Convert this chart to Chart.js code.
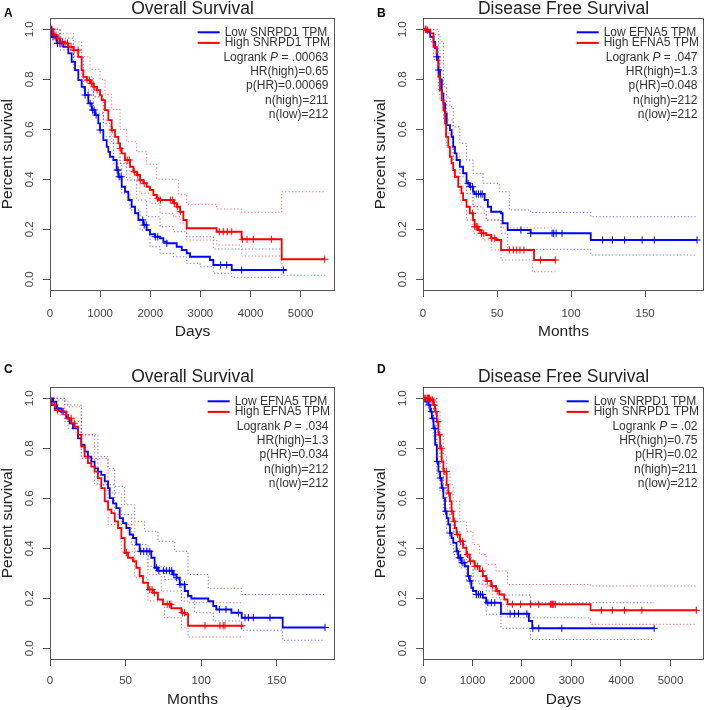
<!DOCTYPE html>
<html><head><meta charset="utf-8">
<script src="https://cdn.jsdelivr.net/npm/chart.js@4.4.1/dist/chart.umd.min.js"></script>
<style>
html,body{margin:0;padding:0;background:#fff;}
#wrap{position:relative;width:709px;height:710px;overflow:hidden;background:#fff;}
canvas{position:absolute;}
</style></head><body><div id="wrap">
<canvas id="cA" width="354" height="355" style="left:0px;top:0px"></canvas>
<canvas id="cB" width="336" height="355" style="left:373px;top:0px"></canvas>
<canvas id="cC" width="354" height="355" style="left:0px;top:355px"></canvas>
<canvas id="cD" width="336" height="355" style="left:373px;top:355px"></canvas>
</div>
<script>
// ---------- tick labels ----------
const xTicksDays = [0, 1000, 2000, 3000, 4000, 5000];
const xTicksMonths = [0, 50, 100, 150];
const yTicks = [0, 0.2, 0.4, 0.6, 0.8, 1.0];

// ---------- Panel A: Overall Survival, SNRPD1 (days) ----------
const A_low = [[0,1],[33,0.97],[133,0.944],[266,0.93],[366,0.904],[432,0.87],[499,0.837],[565,0.797],[632,0.77],[698,0.737],[765,0.704],[831,0.677],[898,0.657],[964,0.624],[998,0.597],[1064,0.557],[1131,0.53],[1164,0.51],[1197,0.49],[1264,0.477],[1330,0.437],[1363,0.41],[1430,0.37],[1496,0.35],[1563,0.317],[1629,0.29],[1696,0.264],[1762,0.237],[1862,0.217],[1929,0.197],[1995,0.18],[2095,0.17],[2195,0.164],[2261,0.15],[2328,0.144],[2527,0.13],[2627,0.117],[2727,0.104],[2793,0.09],[3190,0.077],[3258,0.057],[3625,0.037],[4720,0.037]];
const A_high = [[0,1],[67,0.977],[133,0.964],[200,0.95],[266,0.944],[366,0.93],[466,0.917],[565,0.89],[632,0.837],[665,0.81],[732,0.797],[798,0.784],[865,0.77],[931,0.757],[998,0.737],[1031,0.717],[1097,0.677],[1164,0.637],[1230,0.597],[1297,0.57],[1363,0.544],[1397,0.524],[1430,0.504],[1496,0.477],[1596,0.45],[1663,0.43],[1729,0.417],[1796,0.397],[1862,0.384],[1929,0.37],[1995,0.357],[2062,0.337],[2128,0.324],[2161,0.317],[2461,0.304],[2527,0.29],[2594,0.27],[2660,0.237],[2727,0.204],[3324,0.19],[3823,0.16],[4622,0.08],[5490,0.08]];
const A_lowUp = [[0,1],[200,0.964],[466,0.89],[665,0.81],[865,0.73],[1064,0.624],[1197,0.544],[1397,0.464],[1530,0.397],[1729,0.317],[1929,0.25],[2195,0.21],[2461,0.19],[2727,0.17],[3258,0.121],[4622,0.121]];
const A_lowLo = [[0,1],[200,0.917],[466,0.837],[665,0.757],[865,0.664],[1064,0.57],[1264,0.464],[1430,0.344],[1596,0.277],[1796,0.197],[1995,0.13],[2195,0.104],[2461,0.09],[2727,0.064],[2993,0.05],[3258,0.024],[3625,0.008],[4622,0.008]];
const A_highUp = [[0,1],[200,0.984],[466,0.95],[632,0.89],[798,0.84],[998,0.8],[1097,0.74],[1230,0.68],[1397,0.6],[1530,0.55],[1729,0.51],[1929,0.46],[2128,0.4],[2560,0.34],[2727,0.3],[3324,0.281],[3823,0.268],[4622,0.35],[5490,0.35]];
const A_highLo = [[0,1],[200,0.93],[466,0.89],[632,0.797],[865,0.73],[1064,0.637],[1230,0.544],[1397,0.464],[1596,0.397],[1796,0.344],[1995,0.304],[2195,0.264],[2461,0.25],[2594,0.224],[2727,0.157],[3324,0.137],[3823,0.093],[4622,0.016],[5490,0.016]];
const A_lowCens = [30,60,100,150,200,240,700,760,800,850,880,920,1000,1340,1360,1380,1420,1850,1880,1920,2100,2150,2330,3405,3525,3823,4654];
const A_highCens = [40,80,120,160,200,250,300,350,420,480,560,740,790,830,880,940,1240,1400,1540,1580,1680,1750,1800,1880,2150,2200,2400,2440,2480,2540,2600,3377,3457,3537,3625,3836,3930,4056,4415,5480];

// ---------- Panel B: Disease Free Survival, EFNA5 (months) ----------
const B_low = [[0,1],[2.6,0.99],[4.9,0.97],[7.1,0.95],[8.2,0.924],[9.3,0.89],[10.4,0.837],[11.5,0.8],[12.7,0.744],[13.8,0.704],[14.9,0.664],[16,0.617],[18.2,0.597],[19.3,0.57],[20.4,0.53],[21.6,0.504],[22.7,0.477],[24.9,0.45],[27.1,0.424],[29.4,0.384],[31.6,0.37],[33.8,0.35],[34.9,0.341],[41.6,0.317],[43.8,0.29],[46,0.27],[52.7,0.264],[53.8,0.224],[57.2,0.197],[72.7,0.184],[113.3,0.157],[185.1,0.157]];
const B_high = [[0,1],[2.6,0.997],[4.9,0.984],[7.1,0.93],[9.3,0.877],[10.4,0.81],[11.5,0.757],[12.7,0.717],[13.8,0.677],[14.9,0.624],[15.6,0.57],[17.1,0.53],[18.2,0.49],[19.3,0.464],[20.4,0.437],[21.6,0.41],[23.8,0.37],[26,0.344],[27.1,0.317],[29.4,0.29],[31.6,0.264],[33.8,0.237],[34.9,0.21],[37.1,0.197],[39.4,0.184],[42.7,0.177],[46,0.164],[49.4,0.157],[52.7,0.117],[75,0.077],[89.4,0.077]];
const B_lowUp = [[0,1],[5,1],[10.4,0.95],[13.8,0.77],[15.8,0.73],[18.2,0.69],[20.4,0.61],[24.9,0.544],[29.4,0.477],[33.8,0.424],[40.5,0.384],[51.6,0.35],[58.3,0.277],[72.7,0.267],[113.3,0.25],[185.1,0.25]];
const B_lowLo = [[0,1],[5,0.95],[10.4,0.75],[13.8,0.64],[16,0.584],[20.4,0.477],[24.9,0.41],[29.4,0.344],[33.8,0.29],[40.5,0.277],[42.7,0.237],[52.7,0.184],[57.2,0.12],[113.3,0.097],[185.1,0.097]];
const B_highUp = [[0,1],[7.1,0.98],[11.5,0.784],[16,0.637],[20.4,0.504],[24.9,0.424],[29.4,0.344],[33.8,0.29],[37.1,0.264],[42.7,0.237],[52.7,0.205],[89.4,0.205]];
const B_highLo = [[0,1],[7.1,0.88],[11.5,0.717],[16,0.53],[20.4,0.41],[24.9,0.317],[29.4,0.237],[33.8,0.184],[40.5,0.157],[46,0.117],[52.7,0.077],[73.9,0.03],[89.4,0.03]];
const B_lowCens = [9.5,10.5,30.5,32,33.5,36,37.5,39,40,66.1,72.8,87.2,88.3,89.9,93.9,121.3,128,136.2,148,156.2,185.1];
const B_highCens = [1.5,2,3,33.5,35,36,37,38,39.5,41,46.5,48.5,58.3,61.1,63.3,65.5,68.2,79.4,89.4];

// ---------- Panel C: Overall Survival, EFNA5 (months) ----------
const C_low = [[0,1],[2,0.987],[4.2,0.96],[7.5,0.947],[10.8,0.92],[13,0.9],[15.2,0.88],[18.5,0.84],[20.7,0.814],[22.9,0.787],[25.1,0.767],[27.3,0.747],[29.5,0.72],[31.7,0.707],[33.9,0.694],[36.2,0.668],[38.4,0.641],[39.5,0.601],[41.7,0.58],[43.9,0.561],[46.1,0.521],[48.3,0.501],[50.5,0.481],[52.7,0.455],[54.9,0.441],[57.1,0.415],[59.3,0.388],[67,0.362],[69.2,0.322],[71.4,0.31],[81.3,0.295],[83.6,0.282],[85.8,0.255],[89.1,0.229],[91.3,0.209],[93.5,0.199],[104.7,0.188],[108,0.169],[110,0.155],[120,0.142],[126.8,0.122],[153.9,0.083],[182,0.083]];
const C_high = [[0,1],[0.9,0.973],[3.1,0.953],[7.5,0.947],[10.8,0.933],[11.9,0.92],[14.1,0.9],[16.3,0.887],[18.5,0.854],[20.7,0.807],[22.9,0.767],[25.1,0.741],[27.3,0.727],[29.5,0.707],[31.7,0.681],[33.9,0.641],[36.2,0.588],[38.4,0.555],[40.6,0.541],[42.8,0.508],[45,0.481],[47.2,0.441],[49.4,0.382],[51.6,0.362],[54.9,0.348],[57.1,0.322],[59.3,0.289],[61.5,0.262],[64.8,0.235],[68.1,0.222],[71.4,0.195],[74.7,0.176],[80.2,0.16],[86.9,0.142],[89.1,0.136],[91.3,0.09],[128,0.09]];
const C_lowUp = [[0,1],[9.7,0.973],[20.7,0.854],[31.7,0.767],[38.4,0.72],[42.8,0.648],[49.4,0.574],[56,0.508],[62.6,0.468],[71.4,0.428],[82.5,0.388],[91.3,0.295],[104.7,0.24],[126.8,0.215],[182,0.215]];
const C_lowLo = [[0,1],[9.7,0.907],[20.7,0.76],[31.7,0.654],[42.8,0.535],[53.8,0.415],[64.8,0.328],[75.8,0.275],[86.9,0.202],[95.7,0.142],[108,0.109],[126.8,0.072],[153.9,0.032],[182,0.032]];
const C_highUp = [[0,1],[5.3,0.993],[11.9,0.966],[20.7,0.854],[29.5,0.76],[38.4,0.621],[47.2,0.495],[56,0.388],[64.8,0.295],[73.6,0.229],[86.9,0.189],[91.3,0.182],[128,0.182]];
const C_highLo = [[0,1],[5.3,0.933],[11.9,0.88],[20.7,0.76],[29.5,0.654],[38.4,0.495],[47.2,0.388],[56,0.282],[64.8,0.189],[75.8,0.122],[86.9,0.082],[91.3,0.045],[128,0.045]];
const C_lowCens = [2,5,8,60,62,64,66,70.5,72,75,77,79,80.5,82,83.8,86,89,112,116.4,124.6,129,131.2,134.5,145.5,181.9];
const C_highCens = [3,5,9,12,14,16,50.5,66,67.5,69,77.5,79,80,87.5,89,102.5,112.4,114.6,115.7,126.8];

// ---------- Panel D: Disease Free Survival, SNRPD1 (days) ----------
const D_low = [[0,1],[46,0.987],[112,0.973],[146,0.947],[179,0.92],[212,0.88],[245,0.814],[279,0.747],[312,0.707],[345,0.681],[378,0.641],[412,0.601],[445,0.548],[478,0.521],[511,0.495],[545,0.461],[578,0.441],[611,0.422],[678,0.388],[711,0.362],[777,0.342],[844,0.328],[910,0.289],[944,0.269],[977,0.242],[1010,0.229],[1077,0.215],[1210,0.202],[1276,0.182],[1575,0.138],[2140,0.109],[2207,0.08],[4670,0.08]];
const D_high = [[0,1],[79,1],[146,0.993],[212,0.973],[245,0.947],[279,0.907],[312,0.854],[345,0.8],[378,0.747],[412,0.707],[478,0.654],[511,0.621],[545,0.588],[578,0.548],[611,0.508],[644,0.481],[678,0.455],[744,0.428],[810,0.402],[877,0.375],[944,0.348],[1043,0.328],[1143,0.309],[1210,0.289],[1276,0.269],[1376,0.249],[1476,0.229],[1542,0.215],[1642,0.195],[1708,0.176],[3385,0.152],[5530,0.152]];
const D_lowUp = [[0,1],[212,0.92],[279,0.8],[345,0.72],[412,0.654],[478,0.588],[545,0.508],[611,0.468],[744,0.415],[877,0.362],[1010,0.269],[1143,0.255],[1276,0.229],[1575,0.213],[2175,0.182],[4670,0.182]];
const D_lowLo = [[0,1],[212,0.84],[279,0.694],[345,0.628],[412,0.535],[478,0.468],[545,0.415],[611,0.375],[744,0.322],[877,0.269],[1010,0.202],[1276,0.136],[1575,0.08],[2175,0.035],[4670,0.035]];
const D_highUp = [[0,1],[279,0.947],[345,0.854],[412,0.774],[478,0.707],[545,0.654],[611,0.588],[744,0.508],[877,0.468],[1010,0.415],[1143,0.375],[1276,0.335],[1476,0.309],[1708,0.255],[3385,0.249],[5530,0.249]];
const D_highLo = [[0,1],[279,0.867],[345,0.761],[412,0.654],[478,0.588],[545,0.521],[611,0.468],[744,0.375],[877,0.328],[1010,0.289],[1210,0.249],[1409,0.202],[1575,0.176],[1708,0.122],[3385,0.096],[5530,0.096]];
const D_lowCens = [80,120,170,200,240,290,350,400,460,545,690,730,760,790,830,920,950,1080,1120,1160,1200,1310,1380,1450,1760,1850,1930,2100,2220,2340,2805,4670];
const D_highCens = [20,40,60,90,110,130,160,190,230,260,300,330,370,430,470,520,580,640,700,760,800,900,960,1050,1100,1200,1300,1400,1500,1806,1972,2172,2338,2573,2600,2620,2640,2673,3604,3823,4069,4422,5522];

// ---------- texts ----------
const labelsSNRPD1 = ['Low SNRPD1 TPM', 'High SNRPD1 TPM'];
const labelsEFNA5 = ['Low EFNA5 TPM', 'High EFNA5 TPM'];
const statsA = ['.00063', 'HR(high)=0.65', 'p(HR)=0.00069', 'n(high)=211', 'n(low)=212'];
const statsB = ['.047', 'HR(high)=1.3', 'p(HR)=0.048', 'n(high)=212', 'n(low)=212'];
const statsC = ['.034', 'HR(high)=1.3', 'p(HR)=0.034', 'n(high)=212', 'n(low)=212'];
const statsD = ['.02', 'HR(high)=0.75', 'p(HR)=0.02', 'n(high)=211', 'n(low)=212'];

const FONT = '"Liberation Sans", Arial, Helvetica, sans-serif';
Chart.defaults.font.family = FONT;
const BLUE = '#0000ff', RED = '#ff0000';
const BLUE_CI = 'rgba(60,60,255,0.75)', RED_CI = 'rgba(255,60,60,0.75)';

function toXY(arr) { return arr.map(p => ({x: p[0], y: p[1]})); }
function survAt(curve, t) {
  let s = curve[0][1];
  for (const p of curve) { if (p[0] <= t) s = p[1]; else break; }
  return s;
}

const panelDecor = {
  id: 'panelDecor',
  afterDraw(chart, args, o) {
    const {ctx, chartArea: a} = chart;
    ctx.save();
    ctx.strokeStyle = '#555'; ctx.lineWidth = 1;
    ctx.strokeRect(Math.round(a.left) + 0.5, Math.round(a.top) + 0.5, Math.round(a.right - a.left) - 1, Math.round(a.bottom - a.top));
    // panel letter
    ctx.fillStyle = '#000'; ctx.textAlign = 'left'; ctx.textBaseline = 'alphabetic';
    ctx.font = 'bold 12px ' + FONT;
    ctx.fillText(o.letter, o.letterX, o.letterY);
    // legend
    ctx.font = '12px ' + FONT;
    ctx.textBaseline = 'middle';
    const items = chart.data.datasets.filter(d => d.legendRow !== undefined).sort((p, q) => p.legendRow - q.legendRow);
    const maxW = Math.max(...items.map(d => ctx.measureText(d.label).width));
    const tx = a.right - 5 - maxW;
    const rowY = [14, 24.6];
    items.forEach((d, i) => {
      const y = a.top + rowY[i];
      ctx.strokeStyle = d.borderColor; ctx.lineWidth = 2;
      ctx.beginPath(); ctx.moveTo(tx - 27, y); ctx.lineTo(tx - 5, y); ctx.stroke();
      ctx.fillStyle = '#333';
      ctx.fillText(d.label, tx, y);
    });
    // stats, right aligned
    const rx = a.right - 6.5;
    const statY = [39.4, 53.6, 67.8, 82, 96.2];
    ctx.fillStyle = '#333';
    // Logrank line with italic P
    const parts = [['Logrank ', '12px '], ['P', 'italic 12px '], [' = ' + o.stats[0], '12px ']];
    let total = 0;
    parts.forEach(p => { ctx.font = p[1] + FONT; total += ctx.measureText(p[0]).width; });
    let x = rx - total;
    ctx.textAlign = 'left';
    parts.forEach(p => { ctx.font = p[1] + FONT; ctx.fillText(p[0], x, a.top + statY[0]); x += ctx.measureText(p[0]).width; });
    ctx.font = '12px ' + FONT; ctx.textAlign = 'right';
    for (let i = 1; i < o.stats.length; i++) ctx.fillText(o.stats[i], rx, a.top + statY[i]);
    ctx.restore();
  }
};

function makePanel(id, c) {
  const datasets = [];
  const groups = [
    {curve: c.low, up: c.lowUp, lo: c.lowLo, cens: c.lowCens, col: BLUE, ci: BLUE_CI, label: c.labels[0], row: 0, ord: 2},
    {curve: c.high, up: c.highUp, lo: c.highLo, cens: c.highCens, col: RED, ci: RED_CI, label: c.labels[1], row: 1, ord: 1}
  ];
  groups.forEach(g => {
    [g.up, g.lo].forEach(ci => datasets.push({
      data: toXY(ci), borderColor: g.ci, borderWidth: 1, borderDash: [1.2, 2.2], stepped: true,
      pointRadius: 0, fill: false, order: 4 + g.ord
    }));
    datasets.push({
      label: g.label, legendRow: g.row, data: toXY(g.curve), borderColor: g.col, borderWidth: 1.8,
      stepped: true, pointRadius: 0, fill: false, order: 2 + g.ord
    });
    datasets.push({
      data: g.cens.map(t => ({x: t, y: survAt(g.curve, t)})), showLine: false, borderColor: g.col,
      pointStyle: 'cross', pointRadius: 3.6, pointBorderWidth: 1, pointBorderColor: g.col, order: g.ord
    });
  });
  new Chart(document.getElementById(id), {
    type: 'line',
    data: {datasets},
    plugins: [panelDecor],
    options: {
      responsive: false, animation: false, devicePixelRatio: 1,
      layout: {padding: {left: 0, right: c.padRight, top: c.padTop, bottom: 0}},
      plugins: {
        legend: {display: false}, tooltip: {enabled: false},
        title: {display: true, text: c.title, fullSize: false, color: '#222',
          font: {size: 17.5, weight: 'normal', lineHeight: 1}, padding: {top: 0, bottom: c.titlePadBottom}},
        panelDecor: {letter: c.letter, letterX: 4, letterY: c.letterY, stats: c.stats}
      },
      scales: {
        x: {
          type: 'linear', min: 0, max: c.xMax,
          afterBuildTicks: s => { s.ticks = c.xTicks.map(v => ({value: v})); },
          afterFit: s => { s.height = c.xAxisH; },
          grid: {drawOnChartArea: false, tickLength: 7, color: '#555'},
          border: {display: false},
          ticks: {padding: c.xTickPad, color: '#444', font: {size: 11.5}, maxRotation: 0, autoSkip: false,
            callback: v => String(v)},
          title: {display: true, text: c.xTitle, color: '#222', font: {size: 15.5, lineHeight: 1},
            padding: {top: 0, bottom: c.xTitlePadBottom}}
        },
        y: {
          type: 'linear', min: -0.043, max: 1.044,
          afterBuildTicks: s => { s.ticks = yTicks.map(v => ({value: v})); },
          afterFit: s => { s.width = 50; },
          grid: {drawOnChartArea: false, tickLength: 7, color: '#555'},
          border: {display: false},
          ticks: {padding: 5, color: '#444', font: {size: 11.5}, minRotation: 90, maxRotation: 90,
            crossAlign: 'center', autoSkip: false, callback: v => Number(v).toFixed(1)},
          title: {display: true, text: 'Percent survival', color: '#222', font: {size: 15.5, lineHeight: 1},
            padding: {top: 0, bottom: 0}}
        }
      }
    }
  });
}

const topRow = {padTop: 0, titlePadBottom: 0.8, xAxisH: 65, xTickPad: 9.5, xTitlePadBottom: 16, letterY: 17.3};
const botRow = {padTop: 13, titlePadBottom: 1.8, xAxisH: 51, xTickPad: 8.3, xTitlePadBottom: 3, letterY: 18.3};

makePanel('cA', Object.assign({}, topRow, {letter: 'A', title: 'Overall Survival', xTitle: 'Days', xMax: 5685, xTicks: xTicksDays, padRight: 19,
  low: A_low, high: A_high, lowUp: A_lowUp, lowLo: A_lowLo, highUp: A_highUp, highLo: A_highLo, lowCens: A_lowCens, highCens: A_highCens,
  labels: labelsSNRPD1, stats: statsA}));
makePanel('cB', Object.assign({}, topRow, {letter: 'B', title: 'Disease Free Survival', xTitle: 'Months', xMax: 189.8, xTicks: xTicksMonths, padRight: 2,
  low: B_low, high: B_high, lowUp: B_lowUp, lowLo: B_lowLo, highUp: B_highUp, highLo: B_highLo, lowCens: B_lowCens, highCens: B_highCens,
  labels: labelsEFNA5, stats: statsB}));
makePanel('cC', Object.assign({}, botRow, {letter: 'C', title: 'Overall Survival', xTitle: 'Months', xMax: 188.5, xTicks: xTicksMonths, padRight: 19,
  low: C_low, high: C_high, lowUp: C_lowUp, lowLo: C_lowLo, highUp: C_highUp, highLo: C_highLo, lowCens: C_lowCens, highCens: C_highCens,
  labels: labelsEFNA5, stats: statsC}));
makePanel('cD', Object.assign({}, botRow, {letter: 'D', title: 'Disease Free Survival', xTitle: 'Days', xMax: 5677, xTicks: xTicksDays, padRight: 2,
  low: D_low, high: D_high, lowUp: D_lowUp, lowLo: D_lowLo, highUp: D_highUp, highLo: D_highLo, lowCens: D_lowCens, highCens: D_highCens,
  labels: labelsSNRPD1, stats: statsD}));
</script></body></html>
